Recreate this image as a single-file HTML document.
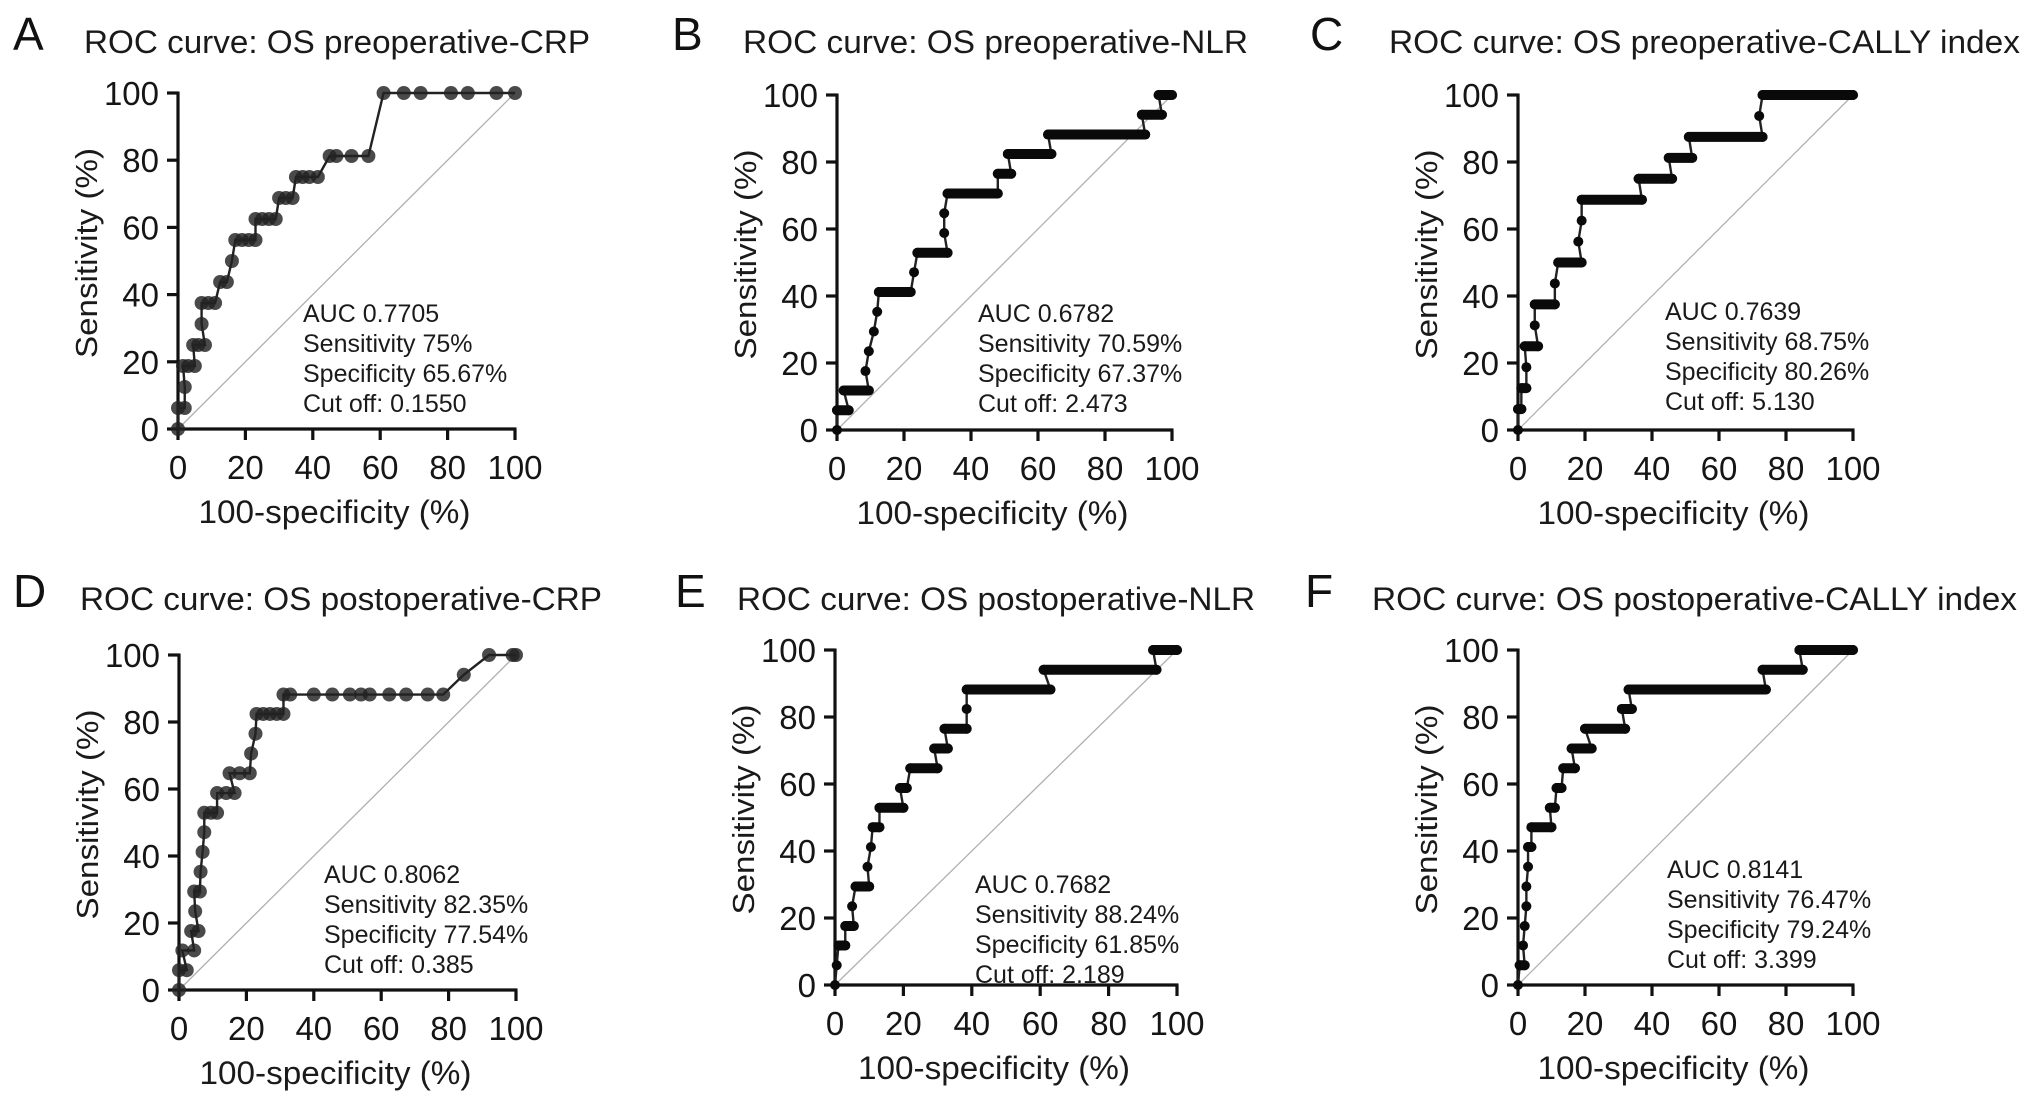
<!DOCTYPE html>
<html><head><meta charset="utf-8"><style>
html,body{margin:0;padding:0;background:#fff;}
svg{display:block;font-family:"Liberation Sans",Arial,sans-serif;}
</style></head><body>
<svg id="fig" width="2032" height="1103" viewBox="0 0 2032 1103"></svg>
<script>
// ---- data (FPR = 100-specificity %, TPR = sensitivity %) ----
const ticks = [0,20,40,60,80,100];
const aX = [0,0,2,2,1.5,3,5,4.5,6,8,7,7,9,11,12.5,14.5,16,17,19,21,23,23,25,27,29,30,32,34,35,37,39,41.5,45,47,51.5,56.5,61,67,72,81,86,94.5,100];
const aY = [0,6.25,6.25,12.5,18.75,18.75,18.75,25,25,25,31.25,37.5,37.5,37.5,43.75,43.75,50,56.25,56.25,56.25,56.25,62.5,62.5,62.5,62.5,68.75,68.75,68.75,75,75,75,75,81.25,81.25,81.25,81.25,100,100,100,100,100,100,100];
const bX = [0,0,3.5,2,9.5,8.5,9.5,11,12,12.5,22,23,24,33,32,32,33,48,48,52,51,64,63,92,91,97,96,100];
const bY = [0,5.9,5.9,11.8,11.8,17.6,23.5,29.4,35.3,41.2,41.2,47.1,52.9,52.9,58.8,64.7,70.6,70.6,76.5,76.5,82.4,82.4,88.2,88.2,94.1,94.1,100,100];
const cX = [0,0,1,1,2.5,2.5,2,6,5,5,11,11,12,19,18,19,19,37,36,46,45,52,51,73,72,73,100];
const cY = [0,6.25,6.25,12.5,12.5,18.75,25,25,31.25,37.5,37.5,43.75,50,50,56.25,62.5,68.75,68.75,75,75,81.25,81.25,87.5,87.5,93.75,100,100];
const dX = [0,0,2.3,1,4.5,3.6,5.8,4.8,4.5,6.2,6.4,7,7.5,7.5,9.5,11.3,11.3,14,16.5,15,18,21,21.4,22.7,23,25,27,29,31,31,33,40,45.5,50.7,54,56.6,62.4,67.4,73.8,78.4,84.5,92,99,100];
const dY = [0,5.9,5.9,11.8,11.8,17.6,17.6,23.5,29.4,29.4,35.3,41.2,47.1,52.9,52.9,52.9,58.8,58.8,58.8,64.7,64.7,64.7,70.6,76.5,82.4,82.4,82.4,82.4,82.4,88.2,88.2,88.2,88.2,88.2,88.2,88.2,88.2,88.2,88.2,88.2,94.1,100,100,100];
const eX = [0,0.5,1,3,3,5.5,5,6,10,9.5,10.5,11,13,13,20,19,21,22,30,29,33,32,38.5,38.5,38.5,63,61,94,93,100];
const eY = [0,5.9,11.8,11.8,17.6,17.6,23.5,29.4,29.4,35.3,41.2,47.1,47.1,52.9,52.9,58.8,58.8,64.7,64.7,70.6,70.6,76.5,76.5,82.4,88.2,88.2,94.1,94.1,100,100];
const fX = [0,0.5,2,1.5,2,2.5,2.5,3,3,4,4,10,9.5,11,11.5,13,13.5,17,16,22,20,32,31,34,33,74,73,85,84,100];
const fY = [0,5.9,5.9,11.8,17.6,23.5,29.4,35.3,41.2,41.2,47.1,47.1,52.9,52.9,58.8,58.8,64.7,64.7,70.6,70.6,76.5,76.5,82.4,82.4,88.2,88.2,94.1,94.1,100,100];

const NS = "http://www.w3.org/2000/svg";
const svg = document.getElementById('fig');
function mk(tag, attrs, parent, txt){
  const e = document.createElementNS(NS, tag);
  for (const k in attrs) e.setAttribute(k, attrs[k]);
  if (txt !== undefined) e.textContent = txt;
  (parent || svg).appendChild(e);
  return e;
}

const panels = [
  {id:'a', L:'A', xs:aX, ys:aY, dense:false, gx0:178, gx1:515, gy0:429, gy1:93,
   title:'ROC curve: OS preoperative-CRP', tx:84, ty:53, tw:506, lx:13, ly:50,
   ann:['AUC 0.7705','Sensitivity 75%','Specificity 65.67%','Cut off: 0.1550'], ax:303, ay:322},
  {id:'b', L:'B', xs:bX, ys:bY, dense:true, gx0:837, gx1:1172, gy0:430, gy1:95,
   title:'ROC curve: OS preoperative-NLR', tx:743, ty:53, tw:505, lx:672, ly:50,
   ann:['AUC 0.6782','Sensitivity 70.59%','Specificity 67.37%','Cut off: 2.473'], ax:978, ay:322},
  {id:'c', L:'C', xs:cX, ys:cY, dense:true, gx0:1518, gx1:1853, gy0:430, gy1:95,
   title:'ROC curve: OS preoperative-CALLY index', tx:1389, ty:53, tw:631, lx:1310, ly:50,
   ann:['AUC 0.7639','Sensitivity 68.75%','Specificity 80.26%','Cut off: 5.130'], ax:1665, ay:320},
  {id:'d', L:'D', xs:dX, ys:dY, dense:false, gx0:179, gx1:516, gy0:990, gy1:655,
   title:'ROC curve: OS postoperative-CRP', tx:80, ty:610, tw:522, lx:13, ly:607,
   ann:['AUC 0.8062','Sensitivity 82.35%','Specificity 77.54%','Cut off: 0.385'], ax:324, ay:883},
  {id:'e', L:'E', xs:eX, ys:eY, dense:true, gx0:835, gx1:1177, gy0:985, gy1:650,
   title:'ROC curve: OS postoperative-NLR', tx:737, ty:610, tw:518, lx:675, ly:607,
   ann:['AUC 0.7682','Sensitivity 88.24%','Specificity 61.85%','Cut off: 2.189'], ax:975, ay:893},
  {id:'f', L:'F', xs:fX, ys:fY, dense:true, gx0:1518, gx1:1853, gy0:985, gy1:650,
   title:'ROC curve: OS postoperative-CALLY index', tx:1372, ty:610, tw:645, lx:1305, ly:607,
   ann:['AUC 0.8141','Sensitivity 76.47%','Specificity 79.24%','Cut off: 3.399'], ax:1667, ay:878}
];

panels.forEach(p => {
  const g = mk('g', {});
  
  
  const X = v => p.gx0 + (p.gx1 - p.gx0) * v / 100;
  const Y = v => p.gy0 + (p.gy1 - p.gy0) * v / 100;

  const lt = mk('text', {x:p.lx, y:p.ly, 'font-size':46, fill:'#111'}, g, p.L);
  
  
  const tt = mk('text', {x:p.tx, y:p.ty, 'font-size':32, fill:'#1a1a1a', textLength:p.tw, lengthAdjust:'spacingAndGlyphs'}, g, p.title);
  
  

  const dg = mk('line', {x1:X(0), y1:Y(0), x2:X(100), y2:Y(100), stroke:'#b0b0b0', 'stroke-width':1.3}, g);
  
  

  const xa = mk('line', {x1:X(0)-1.5, y1:Y(0), x2:X(100)+1.5, y2:Y(0), stroke:'#111', 'stroke-width':3.2}, g);
  
  
  const ya = mk('line', {x1:X(0), y1:Y(0)+1.5, x2:X(0), y2:Y(100)-1.5, stroke:'#111', 'stroke-width':3.2}, g);
  
  
  ticks.forEach(t => {
    const tx = mk('line', {x1:X(t), y1:Y(0), x2:X(t), y2:Y(0)+11, stroke:'#111', 'stroke-width':3.2}, g);
    
    
    const tl = mk('text', {x:X(t), y:Y(0)+50, 'font-size':33, 'text-anchor':'middle', fill:'#151515'}, g, String(t));
    
    
    const ty = mk('line', {x1:X(0)-11, y1:Y(t), x2:X(0), y2:Y(t), stroke:'#111', 'stroke-width':3.2}, g);
    
    
    const yl = mk('text', {x:X(0)-19, y:Y(t)+12, 'font-size':33, 'text-anchor':'end', fill:'#151515'}, g, String(t));
    
    
  });
  const xt = mk('text', {x:(X(0)+X(100))/2 - 12, y:Y(0)+94, 'font-size':32, 'text-anchor':'middle', fill:'#1a1a1a', textLength:272, lengthAdjust:'spacingAndGlyphs'}, g, '100-specificity (%)');
  
  
  const cy = (Y(0)+Y(100))/2 - 8, cx = X(0) - 81;
  const yt = mk('text', {x:cx, y:cy, 'font-size':31, 'text-anchor':'middle', fill:'#1a1a1a', textLength:210, lengthAdjust:'spacingAndGlyphs', transform:'rotate(-90 '+cx+' '+cy+')'}, g, 'Sensitivity (%)');
  
  

  const pts = p.xs.map((v,i) => X(v)+','+Y(p.ys[i])).join(' ');
  const pl = mk('polyline', {points:pts, fill:'none', stroke:'#222', 'stroke-width':2.4}, g);
  
  
  for (let i = 1; i < p.xs.length; i++) {
    if (p.dense && p.ys[i] === p.ys[i-1]) {
      const run = mk('line', {x1:X(p.xs[i-1]), y1:Y(p.ys[i]), x2:X(p.xs[i]), y2:Y(p.ys[i]), stroke:'#0a0a0a', 'stroke-width':10, 'stroke-linecap':'round'}, g);
      
      
    }
  }
  p.xs.forEach((v,i) => {
    const c = mk('circle', {cx:X(v), cy:Y(p.ys[i]), r:p.dense?5:7, fill:p.dense?'#0a0a0a':'#222', 'fill-opacity':p.dense?1:0.82}, g);
    
    
  });

  p.ann.forEach((s,i) => {
    const a = mk('text', {x:p.ax, y:p.ay + i*30, 'font-size':25, fill:'#1a1a1a'}, g, s);
    
    
  });
});
</script>
</body></html>
